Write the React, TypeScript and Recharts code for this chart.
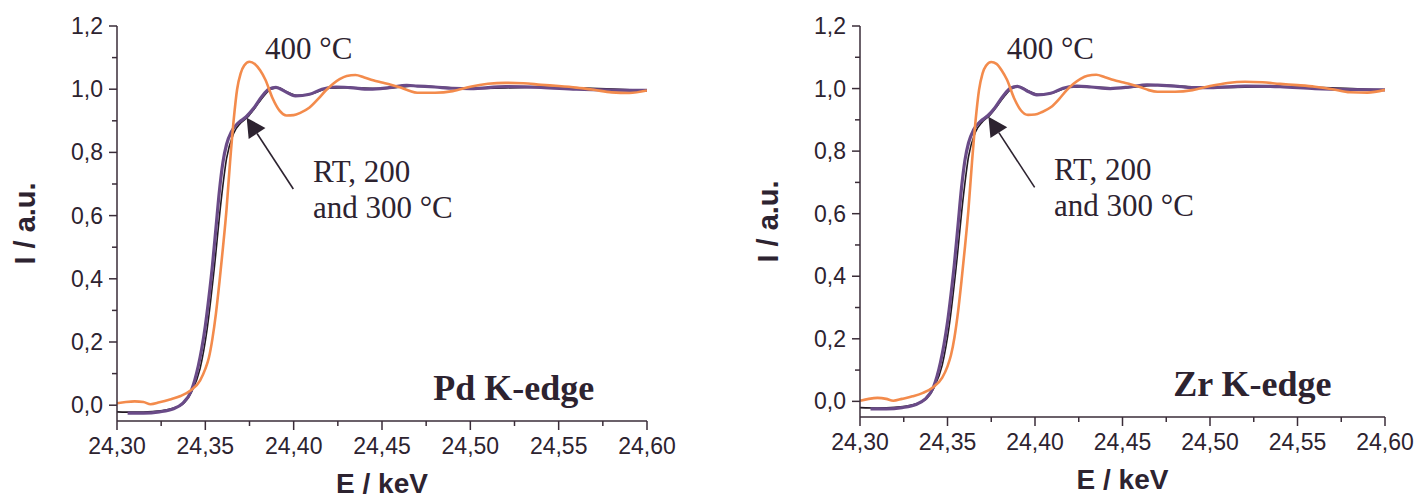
import { LineChart, Line, XAxis, YAxis, ReferenceDot, ReferenceLine } from 'recharts'

// energy (keV), normalised intensity
const pd400: [number, number][] = [
  [24.3, 0.006], [24.305, 0.01], [24.31, 0.012], [24.315, 0.01], [24.319, 0.003], [24.324, 0.009],
  [24.33, 0.018], [24.336, 0.029], [24.342, 0.048], [24.347, 0.078], [24.35, 0.115], [24.352, 0.15],
  [24.354, 0.21], [24.356, 0.29], [24.358, 0.39], [24.36, 0.5], [24.362, 0.62], [24.364, 0.77],
  [24.366, 0.9], [24.368, 1.0], [24.37, 1.05], [24.372, 1.075], [24.375, 1.087], [24.378, 1.08],
  [24.381, 1.06], [24.384, 1.03], [24.388, 0.972], [24.392, 0.932], [24.396, 0.917], [24.4, 0.918],
  [24.404, 0.926], [24.409, 0.942], [24.414, 0.97], [24.418, 0.995], [24.422, 1.016], [24.426, 1.032],
  [24.43, 1.042], [24.435, 1.045], [24.44, 1.037], [24.445, 1.028], [24.45, 1.021], [24.455, 1.014],
  [24.46, 1.006], [24.465, 0.996], [24.47, 0.989], [24.48, 0.989], [24.49, 0.994], [24.5, 1.008],
  [24.51, 1.017], [24.52, 1.02], [24.53, 1.019], [24.54, 1.014], [24.55, 1.01], [24.56, 1.005],
  [24.57, 0.998], [24.58, 0.99], [24.59, 0.988], [24.6, 0.996],
]
const pdLow: [number, number][] = [
  [24.306, -0.025], [24.315, -0.025], [24.324, -0.021], [24.332, -0.011], [24.337, 0.005], [24.342, 0.045],
  [24.346, 0.124], [24.348, 0.18], [24.35, 0.251], [24.352, 0.34], [24.354, 0.441], [24.356, 0.56],
  [24.358, 0.68], [24.36, 0.77], [24.362, 0.825], [24.365, 0.868], [24.369, 0.895], [24.373, 0.912],
  [24.377, 0.937], [24.382, 0.977], [24.386, 1.0], [24.39, 1.006], [24.395, 0.993], [24.401, 0.979],
  [24.409, 0.984], [24.416, 1.0], [24.424, 1.007], [24.432, 1.005], [24.443, 1.0], [24.454, 1.005],
  [24.464, 1.012], [24.47, 1.01], [24.48, 1.007], [24.49, 1.003], [24.5, 1.002], [24.52, 1.008],
  [24.54, 1.006], [24.56, 1.0], [24.58, 0.997], [24.6, 0.996],
]
const pdRT: [number, number][] = [
  [24.3, -0.021], [24.31, -0.022], [24.32, -0.02], [24.33, -0.012], [24.337, 0.003], [24.342, 0.04],
  [24.347, 0.115], [24.351, 0.24], [24.355, 0.43], [24.359, 0.65], [24.362, 0.78], [24.366, 0.86],
  [24.37, 0.893], [24.374, 0.912], [24.378, 0.94], [24.383, 0.978], [24.387, 1.0], [24.391, 1.005],
  [24.396, 0.992], [24.402, 0.98], [24.41, 0.985], [24.42, 1.003], [24.43, 1.005], [24.45, 1.002],
  [24.47, 1.01], [24.5, 1.002], [24.54, 1.006], [24.6, 0.996],
]

const zr400: [number, number][] = [
  [24.3, 0.002], [24.305, 0.008], [24.31, 0.011], [24.315, 0.008], [24.319, 0.002], [24.324, 0.008],
  [24.33, 0.016], [24.336, 0.027], [24.342, 0.046], [24.347, 0.076], [24.35, 0.112], [24.352, 0.148],
  [24.354, 0.205], [24.356, 0.285], [24.358, 0.385], [24.36, 0.495], [24.362, 0.615], [24.364, 0.765],
  [24.366, 0.895], [24.368, 0.995], [24.37, 1.048], [24.372, 1.073], [24.375, 1.085], [24.378, 1.079],
  [24.381, 1.058], [24.384, 1.028], [24.388, 0.97], [24.392, 0.93], [24.396, 0.916], [24.4, 0.917],
  [24.404, 0.925], [24.409, 0.94], [24.414, 0.968], [24.418, 0.994], [24.422, 1.015], [24.426, 1.031],
  [24.43, 1.041], [24.435, 1.044], [24.44, 1.036], [24.445, 1.027], [24.45, 1.02], [24.455, 1.013],
  [24.46, 1.005], [24.465, 0.995], [24.47, 0.99], [24.48, 0.99], [24.49, 0.995], [24.5, 1.008],
  [24.51, 1.018], [24.52, 1.022], [24.53, 1.02], [24.54, 1.015], [24.55, 1.011], [24.56, 1.006],
  [24.57, 0.998], [24.58, 0.988], [24.59, 0.987], [24.6, 0.996],
]
const zrLow: [number, number][] = [
  [24.306, -0.024], [24.315, -0.024], [24.324, -0.02], [24.332, -0.01], [24.337, 0.006], [24.342, 0.046],
  [24.346, 0.125], [24.348, 0.182], [24.35, 0.253], [24.352, 0.342], [24.354, 0.443], [24.356, 0.562],
  [24.358, 0.682], [24.36, 0.772], [24.362, 0.826], [24.365, 0.869], [24.369, 0.896], [24.373, 0.913],
  [24.377, 0.938], [24.382, 0.978], [24.386, 1.001], [24.39, 1.007], [24.395, 0.994], [24.401, 0.98],
  [24.409, 0.985], [24.416, 1.001], [24.424, 1.008], [24.432, 1.005], [24.443, 1.0], [24.454, 1.005],
  [24.464, 1.012], [24.47, 1.011], [24.48, 1.008], [24.49, 1.003], [24.5, 1.003], [24.52, 1.008],
  [24.54, 1.006], [24.56, 1.0], [24.58, 0.997], [24.6, 0.996],
]
const zrRT: [number, number][] = [
  [24.3, -0.02], [24.31, -0.021], [24.32, -0.019], [24.33, -0.011], [24.337, 0.004], [24.342, 0.041],
  [24.347, 0.116], [24.351, 0.242], [24.355, 0.432], [24.359, 0.652], [24.362, 0.782], [24.366, 0.861],
  [24.37, 0.894], [24.374, 0.913], [24.378, 0.941], [24.383, 0.979], [24.387, 1.001], [24.391, 1.006],
  [24.396, 0.993], [24.402, 0.981], [24.41, 0.986], [24.42, 1.004], [24.43, 1.005], [24.45, 1.002],
  [24.47, 1.011], [24.5, 1.003], [24.54, 1.006], [24.6, 0.996],
]

const xTicks = [24.3, 24.325, 24.35, 24.375, 24.4, 24.425, 24.45, 24.475, 24.5, 24.525, 24.55, 24.575, 24.6]
const yTicks = [0, 0.1, 0.2, 0.3, 0.4, 0.5, 0.6, 0.7, 0.8, 0.9, 1.0, 1.1, 1.2]

const AXIS = '#3a2d38'
const TEXT = '#2d2330'
const SANS = "'Liberation Sans', Arial, sans-serif"
const SERIF = "'Liberation Serif', 'Times New Roman', serif"

const toPts = (arr: [number, number][]) => arr.map(([e, i]) => ({ e, i }))
const comma = (v: number, d: number) => v.toFixed(d).replace('.', ',')

function BottomTick(p: any) {
  const v = p.payload.value
  const major = Math.round(v * 1000) % 50 === 0
  return (
    <g>
      <line x1={p.x} x2={p.x} y1={p.y} y2={p.y + (major ? 9 : 5)} stroke={AXIS} strokeWidth={1.5} />
      {major && (
        <text x={p.x} y={p.y + 33} textAnchor="middle" fontSize={23} fill={TEXT} fontFamily={SANS}>
          {comma(v, 2)}
        </text>
      )}
    </g>
  )
}

function LeftTick(p: any) {
  const v = p.payload.value
  const major = Math.round(v * 10) % 2 === 0
  return (
    <g>
      <line x1={p.x} x2={p.x - (major ? 8 : 5)} y1={p.y} y2={p.y} stroke={AXIS} strokeWidth={1.5} />
      {major && (
        <text x={p.x - 14} y={p.y + 8} textAnchor="end" fontSize={23} fill={TEXT} fontFamily={SANS}>
          {comma(v, 1)}
        </text>
      )}
    </g>
  )
}

const TopTick = (p: any) => <line x1={p.x} x2={p.x} y1={p.y} y2={p.y + 3} stroke={AXIS} strokeWidth={1.5} />
const RightTick = (p: any) => <line x1={p.x} x2={p.x - 3} y1={p.y} y2={p.y} stroke={AXIS} strokeWidth={1.5} />

function Arrow(p: any) {
  const { x1, y1, x2, y2 } = p
  const len = Math.hypot(x2 - x1, y2 - y1)
  const dx = (x2 - x1) / len
  const dy = (y2 - y1) / len
  const bx = x2 - dx * 19
  const by = y2 - dy * 19
  const pts = `${x2},${y2} ${bx - dy * 10},${by + dx * 10} ${bx + dy * 10},${by - dx * 10}`
  return (
    <g>
      <line x1={x1} y1={y1} x2={bx} y2={by} stroke={TEXT} strokeWidth={1.6} />
      <polygon points={pts} fill={TEXT} />
    </g>
  )
}

const serifText = (txt: string, size: number, bold = false) => (p: any) => (
  <text x={p.cx} y={p.cy} fontSize={size} fontFamily={SERIF} fontWeight={bold ? 'bold' : 'normal'} fill={TEXT}>
    {txt}
  </text>
)

interface PanelProps {
  hot: [number, number][]
  low: [number, number][]
  rt: [number, number][]
  edge: string
  width: number
  margin: { top: number; right: number; bottom: number; left: number }
}

function Panel({ hot, low, rt, edge, width, margin }: PanelProps) {
  const xTitle = (p: any) => {
    const vb = p.viewBox
    return (
      <text x={vb.x + vb.width / 2} y={vb.y + 72} textAnchor="middle" fontSize={28} fontWeight="bold" fill={TEXT} fontFamily={SANS}>
        E / keV
      </text>
    )
  }
  const yTitle = (p: any) => {
    const vb = p.viewBox
    const cx = vb.x - 22
    const cy = vb.y + vb.height / 2
    return (
      <text x={cx} y={cy} transform={`rotate(-90 ${cx} ${cy})`} textAnchor="middle" fontSize={29} fontWeight="bold" fill={TEXT} fontFamily={SANS}>
        I / a.u.
      </text>
    )
  }
  const axisLine = { stroke: AXIS, strokeWidth: 1.5 }
  return (
    <LineChart width={width} height={498} margin={margin}>
      <XAxis xAxisId="b" type="number" dataKey="e" domain={[24.3, 24.6]} ticks={xTicks} interval={0}
        tickSize={0} tickMargin={0} tickLine={false} tick={BottomTick} height={40} axisLine={axisLine}
        allowDataOverflow label={xTitle} />
      <XAxis xAxisId="t" orientation="top" type="number" dataKey="e" domain={[24.3, 24.6]} ticks={xTicks}
        interval={0} tickSize={0} tickMargin={0} tickLine={false} tick={TopTick} height={0} axisLine={axisLine}
        allowDataOverflow />
      <YAxis yAxisId="l" type="number" domain={[-0.05, 1.2]} ticks={yTicks} interval={0} tickSize={0}
        tickMargin={0} tickLine={false} tick={LeftTick} width={60} axisLine={axisLine} allowDataOverflow
        label={yTitle} />
      <YAxis yAxisId="r" orientation="right" type="number" domain={[-0.05, 1.2]} ticks={yTicks} interval={0}
        tickSize={0} tickMargin={0} tickLine={false} tick={RightTick} width={0} axisLine={axisLine}
        allowDataOverflow />
      <Line xAxisId="b" yAxisId="l" data={toPts(rt)} dataKey="i" type="monotone" stroke="#231a22"
        strokeWidth={1.6} dot={false} activeDot={false} isAnimationActive={false} />
      <Line xAxisId="b" yAxisId="l" data={toPts(low)} dataKey="i" type="monotone" stroke="#6a4b88"
        strokeWidth={3.2} dot={false} activeDot={false} isAnimationActive={false} />
      <Line xAxisId="b" yAxisId="l" data={toPts(hot)} dataKey="i" type="monotone" stroke="#f38b4c"
        strokeWidth={2.6} dot={false} activeDot={false} isAnimationActive={false} />
      <ReferenceLine xAxisId="b" yAxisId="l" segment={[{ x: 24.3998, y: 0.684 }, { x: 24.3734, y: 0.91 }]}
        shape={Arrow} />
      <ReferenceDot xAxisId="b" yAxisId="l" x={24.3838} y={1.095} shape={serifText('400 °C', 31)} />
      <ReferenceDot xAxisId="b" yAxisId="l" x={24.4109} y={0.707} shape={serifText('RT, 200', 31)} />
      <ReferenceDot xAxisId="b" yAxisId="l" x={24.4109} y={0.5915} shape={serifText('and 300 °C', 31)} />
      <ReferenceDot xAxisId="b" yAxisId="l" x={24.479} y={0.0165} shape={serifText(edge, 36, true)} />
    </LineChart>
  )
}

export default function App() {
  return (
    <div style={{ position: 'absolute', left: 0, top: 0, width: 1417, height: 498, display: 'flex', background: '#fff' }}>
      <Panel hot={pd400} low={pdLow} rt={pdRT} edge="Pd K-edge" width={700}
        margin={{ top: 26, right: 53, bottom: 37, left: 57 }} />
      <Panel hot={zr400} low={zrLow} rt={zrRT} edge="Zr K-edge" width={717}
        margin={{ top: 26, right: 32, bottom: 41, left: 100 }} />
    </div>
  )
}
